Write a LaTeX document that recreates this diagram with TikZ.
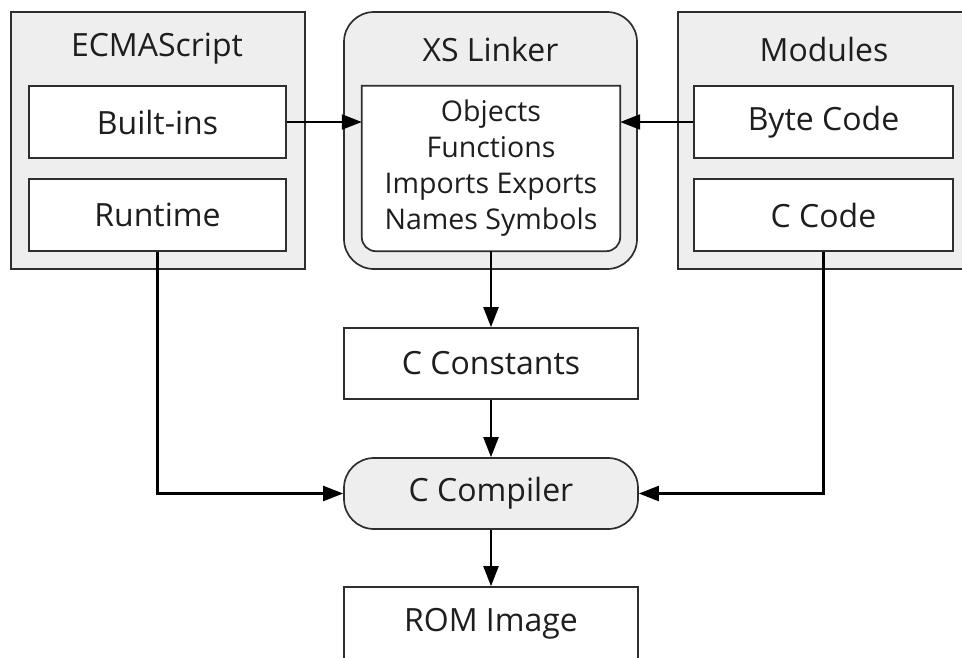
\documentclass[tikz,border=0pt]{standalone}
\usepackage{fontspec}
\setmainfont{Open Sans}
\usetikzlibrary{arrows.meta,calc}
\definecolor{boxgray}{HTML}{EDEEED}
\definecolor{linegray}{HTML}{2E2E2E}
\definecolor{txt}{HTML}{1E1E1E}
\tikzset{
  outerbox/.style={draw=linegray, line width=1.7pt, fill=boxgray, inner sep=0pt},
  innerbox/.style={draw=linegray, line width=1.7pt, fill=white, inner sep=0pt, minimum width=257pt, minimum height=72pt, text=txt, font=\fontsize{32}{36}\selectfont},
  title/.style={text=txt, inner sep=0pt, font=\fontsize{32}{36}\selectfont},
  arr/.style={draw=black, line width=2.2pt, -{Triangle[length=20pt,width=15pt]}},
  flowbox/.style={draw=linegray, line width=1.7pt, fill=white, inner sep=0pt, minimum width=294pt, minimum height=71pt, text=txt, font=\fontsize{32}{36}\selectfont}
}
\begin{document}
\begin{tikzpicture}[x=1pt,y=-1pt]
\useasboundingbox (0,0) rectangle (962,657);
\clip (0,0) rectangle (962,657);
% ECMAScript group
\node[outerbox, minimum width=294pt, minimum height=257pt] (ecma) at (158,140.5) {};
\node[title] (ecmatitle) at (157,49) {ECMAScript};
\node[innerbox] (builtins) at (157.5,122) {Built-ins};
\node[innerbox] (runtime) at (157.5,215) {Runtime};
% XS Linker group
\node[outerbox, rounded corners=30pt, minimum width=293pt, minimum height=257pt] (xs) at (490.5,140.5) {};
\node[title] (xstitle) at (490.5,49) {XS Linker};
\node[inner sep=0pt, minimum width=258pt, minimum height=165pt] (xsin) at (491,168.5) {};
\draw[draw=linegray, line width=1.7pt, fill=white]
  (xsin.north west) -- (xsin.north east) -- ([yshift=14pt]xsin.south east)
  arc[start angle=0, end angle=-90, radius=14pt]
  -- ([xshift=14pt]xsin.south west)
  arc[start angle=270, end angle=180, radius=14pt] -- cycle;
\node[text=txt, align=center, inner sep=0pt, font=\fontsize{28.5}{36}\selectfont] (xstext) at (491,168) {Objects\\Functions\\Imports Exports\\Names Symbols};
% Modules group
\node[outerbox, minimum width=302pt, minimum height=257pt] (mods) at (829,140.5) {};
\node[title] (modtitle) at (824,49) {Modules};
\node[innerbox, minimum width=259pt] (bytecode) at (823.5,122) {Byte Code};
\node[innerbox, minimum width=259pt] (ccode) at (823.5,215) {C Code};
% flow
\node[flowbox] (cconst) at (491,363.5) {C Constants};
\node[flowbox, fill=boxgray, rounded corners=30pt] (ccomp) at (491,493.5) {C Compiler};
\node[flowbox, minimum height=80pt] (rom) at (491,627) {};
\node[text=txt, inner sep=0pt, font=\fontsize{32}{36}\selectfont] (romtext) at (491,624) {ROM Image};
% connectors
\draw[arr] (builtins.east) -- (builtins.east -| xsin.west);
\draw[arr] (bytecode.west) -- (bytecode.west -| xsin.east);
\draw[arr] (xsin.south) -- (cconst.north);
\draw[arr] (cconst.south) -- (ccomp.north);
\draw[arr] (ccomp.south) -- (rom.north);
\draw[arr] (runtime.south) |- (ccomp.west);
\draw[arr] (ccode.south) |- (ccomp.east);
\end{tikzpicture}
\end{document}
